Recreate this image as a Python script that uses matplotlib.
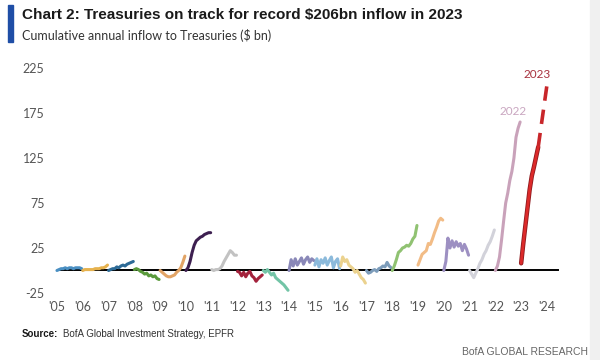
import numpy as np
import matplotlib
matplotlib.use("Agg")
import matplotlib.pyplot as plt
from matplotlib.patches import Rectangle

# ---------------- data ----------------
years = list(range(2005, 2023))
y2005 = [0, 1, 2, 2, 3, 2, 3, 3, 2, 3, 3, 3, 2]
y2006 = [0, 1, 1, 1, 1, 1, 2, 2, 2, 3, 3, 4, 6]
y2007 = [0, 1, 2, 2, 4, 3, 5, 6, 5, 7, 8, 9, 10]
y2008 = [1, 2, 1, -1, -2, -4, -3, -6, -5, -7, -6, -9, -10]
y2009 = [0, -2, -4, -6, -7, -7, -6, -5, -2, 0, 3, 9, 16]
y2010 = [0, 3, 10, 20, 28, 33, 35, 37, 38, 40, 41, 42, 42]
y2011 = [1, 0, 1, 1, 2, 5, 10, 14, 18, 22, 20, 17, 17]
y2012 = [-1, -2, -6, -2, -7, -3, -1, -6, -8, -12, -9, -7, -5]
y2013 = [0, -2, 1, -2, -5, -3, -8, -10, -12, -14, -16, -19, -22]
y2014 = [0, 12, 5, 13, 6, 10, 14, 7, 12, 15, 9, 13, 11]
y2015 = [6, 13, 4, 12, 8, 14, 6, 11, 15, 3, 10, 13, 2]
y2016 = [5, 15, 10, 12, 6, 4, 2, -2, 0, -4, -8, -10, -14]
y2017 = [0, -3, -2, 0, 1, -1, 2, 3, 5, 4, 9, 5, 3]
y2018 = [0, 5, 12, 20, 22, 25, 26, 28, 27, 30, 35, 38, 50]
y2019 = [6, 12, 18, 20, 22, 30, 29, 35, 42, 48, 55, 58, 56]
y2020 = [0, 10, 36, 25, 33, 26, 32, 27, 30, 22, 29, 24, 17]
y2021 = [0, -4, -8, -3, 2, 8, 12, 18, 22, 28, 32, 38, 45]
y2022 = [0, 5, 15, 34, 55, 75, 86, 100, 110, 125, 148, 158, 165]
y2023 = [8, 30, 50, 70, 90, 105, 115, 126, 137]
proj2023 = [137, 206]

series = [y2005, y2006, y2007, y2008, y2009, y2010, y2011, y2012, y2013,
          y2014, y2015, y2016, y2017, y2018, y2019, y2020, y2021, y2022]
colors = ["#4a8fc2", "#e6b24e", "#2d6a96", "#5b9a3c", "#e2a466", "#3d1f50",
          "#c2c2c2", "#a3223c", "#72c4a6", "#8a88b8", "#8cbadb", "#ebd28e",
          "#7c9cba", "#90c272", "#f2bc86", "#9d90c2", "#d2d2da", "#c9a2ba"]

yticks = [-25, 25, 75, 125, 175, 225]
xtick_years = list(range(2005, 2025))
xtick_labels = ["'%02d" % (y % 100) for y in xtick_years]

NARROW = ["Liberation Sans", "DejaVu Sans"]
LIGHT = ["Lato", "DejaVu Sans"]

# ---------------- figure ----------------
fig = plt.figure(figsize=(6, 3.6), dpi=100)
fig.patch.set_facecolor("white")
ax = fig.add_axes([50 / 600, 1 - 300 / 360, 515 / 600, 240 / 360])
ax.set_xlim(2004.73, 2024.70)
ax.set_ylim(-32.8, 233.9)

for yr, vals, c in zip(years, series, colors):
    xs = np.linspace(yr, yr + 0.96, len(vals))
    ax.plot(xs, vals, color=c, lw=2.2, solid_capstyle="round", zorder=3)

x23 = np.linspace(2023, 2023.66, len(y2023))
ax.plot(x23, y2023, color="#8e1a1e", lw=3.2, zorder=4, solid_capstyle="round")
ax.plot(x23, y2023, color="#dc2a2a", lw=2.0, zorder=5, solid_capstyle="round")
ax.plot([2023.66, 2024.0], proj2023, color="#c8262a", lw=2.6,
        dashes=(4, 2.5), zorder=4)

ax.plot([2005.03, 2024.43], [0, 0], color="black", lw=1.4, zorder=2)

ax.text(2022.7, 177, "2022", color="#c9a6c0", fontsize=8.5, ha="center",
        va="center", family=LIGHT)
ax.text(2023.62, 218, "2023", color="#a8323f", fontsize=8.5, ha="center",
        va="center", family=LIGHT)

ax.set_yticks(yticks)
ax.set_yticklabels([str(v) for v in yticks])
ax.set_xticks(xtick_years)
ax.set_xticklabels(xtick_labels)
ax.tick_params(axis="both", length=0, labelcolor="#555555", labelsize=9)
ax.tick_params(axis="y", pad=4)
ax.tick_params(axis="x", pad=1)
for lab in ax.get_xticklabels() + ax.get_yticklabels():
    lab.set_family(LIGHT)
for s in ax.spines.values():
    s.set_visible(False)
ax.set_facecolor("white")

# header
fig.patches.append(Rectangle((8 / 600, 1 - 42 / 360), 5 / 600, 37 / 360,
                             transform=fig.transFigure, color="#1f4ea6"))
fig.text(22 / 600, 1 - 15 / 360, "Chart 2: Treasuries on track for record $206bn inflow in 2023",
         fontsize=11, fontweight="bold", color="#1a1a1a", va="center",
         family=NARROW)
fig.text(22 / 600, 1 - 35 / 360, "Cumulative annual inflow to Treasuries ($ bn)",
         fontsize=9, color="#333333", va="center", family=LIGHT)

# footer
src = fig.text(22 / 600, 1 - 334 / 360, "Source:", fontsize=7, fontweight="bold",
               color="#1a1a1a", va="center", family=NARROW)
fig.canvas.draw()
bb = src.get_window_extent(renderer=fig.canvas.get_renderer())
fig.text((bb.x1 + 5) / 600, 1 - 334 / 360, "BofA Global Investment Strategy, EPFR",
         fontsize=7, color="#333333", va="center", family=NARROW)
fig.text(588 / 600, 1 - 352 / 360, "BofA GLOBAL RESEARCH", fontsize=7.5,
         color="#666666", va="center", ha="right", family=NARROW)

fig.patches.append(Rectangle((590 / 600, 0), 10 / 600, 1,
                             transform=fig.transFigure, color="#f0f0f0", zorder=0))

fig.savefig("out.png", dpi=100, facecolor="white")
